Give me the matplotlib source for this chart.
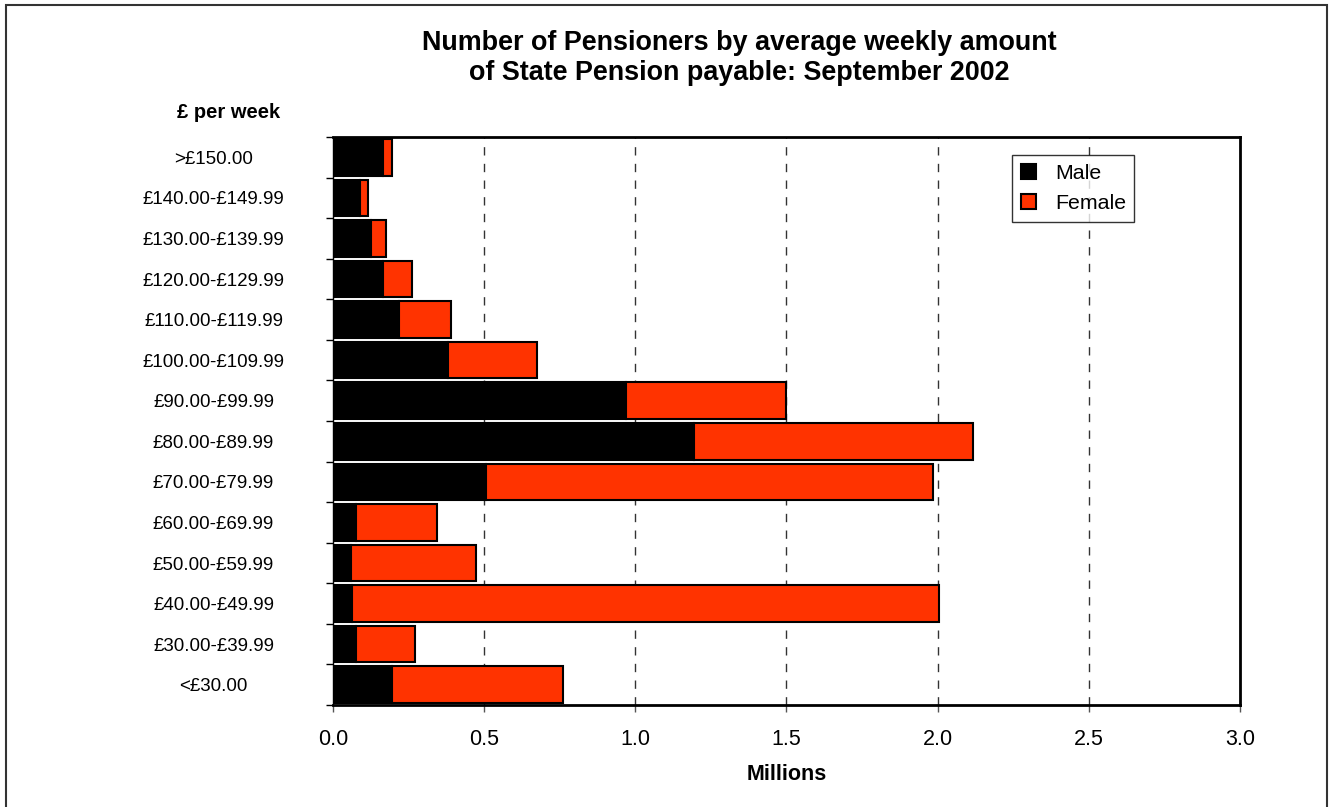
import matplotlib
matplotlib.use("Agg")
import matplotlib.pyplot as plt
from matplotlib.patches import Rectangle
import numpy as np

plt.rcParams['font.family'] = ['Liberation Sans', 'DejaVu Sans']

categories = ["<£30.00", "£30.00-£39.99", "£40.00-£49.99", "£50.00-£59.99",
              "£60.00-£69.99", "£70.00-£79.99", "£80.00-£89.99", "£90.00-£99.99",
              "£100.00-£109.99", "£110.00-£119.99", "£120.00-£129.99",
              "£130.00-£139.99", "£140.00-£149.99", ">£150.00"]
male = [0.194, 0.076, 0.063, 0.061, 0.076, 0.506, 1.195, 0.968,
        0.379, 0.218, 0.166, 0.126, 0.089, 0.165]
female = [0.568, 0.195, 1.942, 0.411, 0.269, 1.480, 0.921, 0.532,
          0.295, 0.172, 0.096, 0.049, 0.028, 0.030]
xticks = [0.0, 0.5, 1.0, 1.5, 2.0, 2.5, 3.0]
xticklabels = ["0.0", "0.5", "1.0", "1.5", "2.0", "2.5", "3.0"]

W, H = 1329, 807
fig = plt.figure(figsize=(W / 100, H / 100), dpi=100)
ax = fig.add_axes([333 / W, 1 - 705 / H, (1240 - 333) / W, (705 - 137) / H])

y = np.arange(len(categories))
ax.barh(y, male, height=0.9, color="#000000", edgecolor="#000000", linewidth=1.5,
        label="Male", zorder=3)
ax.barh(y, female, left=male, height=0.9, color="#FF3300", edgecolor="#000000",
        linewidth=1.5, label="Female", zorder=3)

ax.set_xlim(0, 3.0)
ax.set_ylim(-0.5, len(categories) - 0.5)
ax.set_xticks(xticks)
ax.set_xticklabels(xticklabels, fontsize=15.5)
ax.tick_params(axis="x", direction="out", length=5, width=1, color="#555555", pad=12)

ax.set_yticks(y)
ax.set_yticklabels(categories, fontsize=13.5, ha="center")
ax.tick_params(axis="y", which="major", length=0, pad=86)
ax.set_yticks(np.arange(-0.5, len(categories), 1.0), minor=True)
ax.tick_params(axis="y", which="minor", direction="out", length=5, width=1, color="#000000")

for xv in xticks[1:-1]:
    ax.axvline(xv, color="#333333", linewidth=1, linestyle=(0, (6, 6)), zorder=1)

for s in ["top", "right", "bottom"]:
    ax.spines[s].set_linewidth(2)
    ax.spines[s].set_color("#000000")
ax.spines["left"].set_linewidth(1)
ax.spines["left"].set_color("#000000")

ax.set_xlabel("Millions", fontsize=15.5, fontweight="bold", labelpad=10)

fig.text(739 / W, 1 - 58 / H,
         "Number of Pensioners by average weekly amount\nof State Pension payable: September 2002",
         ha="center", va="center", fontsize=19.4, fontweight="bold", linespacing=1.22)
fig.text(229 / W, 1 - 112 / H, "£ per week", ha="center", va="center",
         fontsize=14.5, fontweight="bold")

leg = ax.legend(loc="upper left", bbox_to_anchor=((1012 - 333) / (1240 - 333), 1 - (155 - 137) / (705 - 137)),
                fontsize=15.4, frameon=True, fancybox=False, handlelength=0.7, handleheight=0.7,
                handletextpad=0.9, borderpad=0.4, labelspacing=0.55, borderaxespad=0)
leg.get_frame().set_edgecolor("#000000")
leg.get_frame().set_linewidth(1)

fig.patches.append(Rectangle((6 / W, -0.01), (1327 - 6) / W, 1.01 - 5 / H,
                             transform=fig.transFigure, fill=False,
                             edgecolor="#333333", linewidth=1.5))

fig.savefig("out.png", dpi=100)
